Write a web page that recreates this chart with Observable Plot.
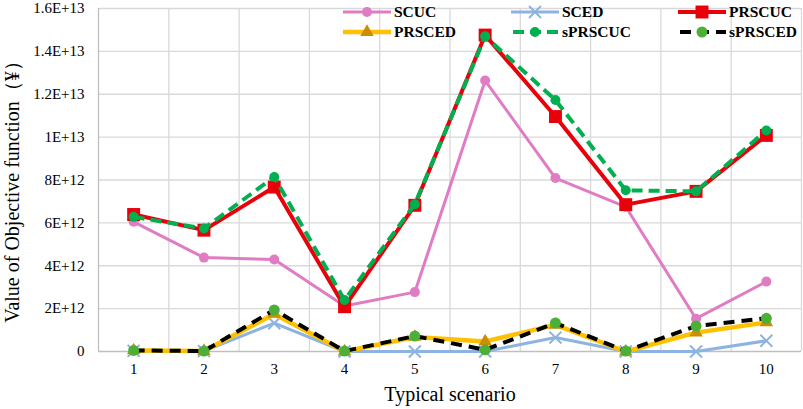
<!DOCTYPE html>
<html>
<head>
<meta charset="utf-8">
<script src="https://cdn.jsdelivr.net/npm/d3@7"></script>
<script src="https://cdn.jsdelivr.net/npm/@observablehq/plot@0.6"></script>
<style>
  html, body { margin: 0; padding: 0; background: #fff; }
  #wrap { position: relative; width: 803px; height: 409px; overflow: hidden; }
  #chart svg, #chart svg text { font-family: 'Liberation Serif', 'Times New Roman', serif !important; overflow: visible; }
  #legend { position: absolute; left: 0; top: 0; width: 803px; height: 50px; pointer-events: none; }
  .item { position: absolute; display: flex; align-items: center; height: 20px;
          font-family: 'Liberation Serif', 'Times New Roman', serif; font-weight: bold; font-size: 15.5px; color: #000; }
  .item svg { margin-right: 3px; }
</style>
</head>
<body>
<div id="wrap"><div id="chart"></div><div id="legend"></div></div>
<script>
const scenarios = [1, 2, 3, 4, 5, 6, 7, 8, 9, 10];
const yTicks = [0, 2e12, 4e12, 6e12, 8e12, 1e13, 1.2e13, 1.4e13, 1.6e13];

const SCUC    = [6.05e12, 4.38e12, 4.29e12, 2.12e12, 2.77e12, 12.64e12, 8.09e12, 6.75e12, 1.53e12, 3.26e12];
const SCED    = [0.03e12, 0.02e12, 1.32e12, 0, 0, 0, 0.65e12, 0, 0, 0.5e12];
const PRSCUC  = [6.39e12, 5.66e12, 7.67e12, 2.09e12, 6.82e12, 14.76e12, 10.96e12, 6.85e12, 7.47e12, 10.08e12];
const PRSCED  = [0.05e12, 0.02e12, 1.75e12, 0, 0.68e12, 0.47e12, 1.24e12, 0, 0.88e12, 1.36e12];
const sPRSCUC = [6.28e12, 5.74e12, 8.14e12, 2.40e12, 6.87e12, 14.7e12, 11.73e12, 7.52e12, 7.47e12, 10.31e12];
const sPRSCED = [0.05e12, 0.02e12, 1.94e12, 0.02e12, 0.72e12, 0.08e12, 1.33e12, 0.02e12, 1.19e12, 1.55e12];

const xTitle = "Typical scenario";
const yTitle = "Value of Objective function（¥）";
const serif = "'Liberation Serif', 'Times New Roman', serif";

const seriesDefs = [
  {name: "SCUC",    values: SCUC,    stroke: "#E07CC3", width: 3,   dash: null,   symbol: "circle",   r: 5,   fill: "#E07CC3", mstroke: "none"},
  {name: "SCED",    values: SCED,    stroke: "#8DB3E2", width: 3,   dash: null,   symbol: "times",    r: 5.5, fill: "none",    mstroke: "#8DB3E2"},
  {name: "PRSCUC",  values: PRSCUC,  stroke: "#E8000B", width: 4,   dash: null,   symbol: "square",   r: 7.3, fill: "#E8000B", mstroke: "none"},
  {name: "PRSCED",  values: PRSCED,  stroke: "#FFC000", width: 4.5, dash: null,   symbol: "triangle", r: 5,   fill: "#CC8E00", mstroke: "none"},
  {name: "sPRSCUC", values: sPRSCUC, stroke: "#00B050", width: 4,   dash: "11,6", symbol: "circle",   r: 5,   fill: "#00B050", mstroke: "none"},
  {name: "sPRSCED", values: sPRSCED, stroke: "#000000", width: 4,   dash: "11,7", symbol: "circle",   r: 5.5, fill: "#4CAF37", mstroke: "none"}
];

const table = s => scenarios.map((x, i) => ({scenario: x, value: s.values[i], series: s.name}));
const gridX = d3.range(1.5, 11, 1);

const marks = [
  Plot.ruleY(yTicks.slice(1), {stroke: "#D9D9D9", strokeWidth: 1.3}),
  Plot.ruleX(gridX, {stroke: "#D9D9D9", strokeWidth: 1.3}),
  Plot.ruleX([0.5], {stroke: "#BFBFBF", strokeWidth: 1.3}),
  Plot.ruleY([0], {stroke: "#BFBFBF", strokeWidth: 1.3}),
  Plot.axisY(yTicks, {tickSize: 0, tickPadding: 14, tickFormat: d => d === 0 ? "0" : d.toExponential().toUpperCase(), label: null, fontSize: 15, fontFamily: serif}),
  Plot.axisX(scenarios, {tickSize: 0, tickPadding: 12, tickFormat: d => String(d), label: null, fontSize: 15, fontFamily: serif}),
  Plot.text([yTitle], {frameAnchor: "left", textAnchor: "middle", lineAnchor: "middle", rotate: -90, dx: -86, dy: 7, fontSize: 20, fontFamily: serif, text: d => d}),
  Plot.text([xTitle], {frameAnchor: "bottom", textAnchor: "middle", lineAnchor: "middle", dy: 43, fontSize: 20, fontFamily: serif, text: d => d})
];
for (const s of seriesDefs) {
  const data = table(s);
  marks.push(Plot.line(data, {x: "scenario", y: "value", stroke: s.stroke, strokeWidth: s.width, strokeDasharray: s.dash, strokeLinejoin: "miter", strokeLinecap: "butt"}));
  marks.push(Plot.dot(data, {x: "scenario", y: "value", symbol: s.symbol, r: s.r, fill: s.fill, stroke: s.mstroke, strokeWidth: 2}));
}

const chart = Plot.plot({
  width: 803,
  height: 409,
  marginLeft: 98,
  marginRight: 2,
  marginTop: 8,
  marginBottom: 58,
  style: {fontFamily: serif, fontSize: "15px", color: "#000", background: "#fff"},
  x: {domain: [0.5, 10.5]},
  y: {domain: [0, 1.6e13]},
  marks
});
document.getElementById("chart").appendChild(chart);

// Legend overlay (two rows, three columns)
const legendPos = [[343, 2], [511, 2], [678, 2], [343, 22], [511, 22], [678, 22]];
const legend = document.getElementById("legend");
seriesDefs.forEach((s, i) => {
  const [lx, ly] = legendPos[i];
  const item = document.createElement("div");
  item.className = "item";
  item.style.left = lx + "px";
  item.style.top = ly + "px";
  const w = 48, h = 20, cy = 10, cx = 24;
  const path = d3.symbol(d3["symbol" + s.symbol[0].toUpperCase() + s.symbol.slice(1)], Math.PI * s.r * s.r)();
  item.innerHTML = `<svg width="${w}" height="${h}"><line x1="0" x2="${w}" y1="${cy}" y2="${cy}" stroke="${s.stroke}" stroke-width="${s.width}" ${s.dash ? `stroke-dasharray="${s.dash}" stroke-dashoffset="-2"` : ""}/><path transform="translate(${cx},${cy})" d="${path}" fill="${s.fill}" stroke="${s.mstroke}" stroke-width="2"/></svg><span>${s.name}</span>`;
  legend.appendChild(item);
});
</script>
</body>
</html>
